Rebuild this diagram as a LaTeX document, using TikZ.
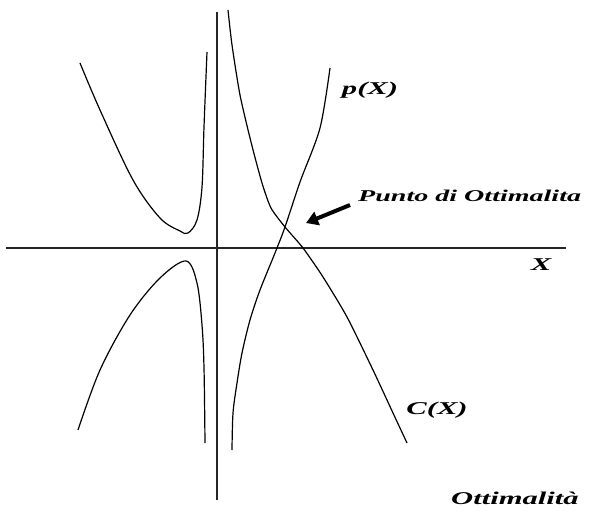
\documentclass[tikz,border=0pt]{standalone}
\usepackage{fontspec}
\usetikzlibrary{arrows.meta}
\newfontfamily\lblfont[FakeStretch=1.7]{Liberation Serif}
\begin{document}
\begin{tikzpicture}[x=1pt,y=-1pt,
  curve/.style={black, line width=1.2pt},
  axis/.style={black!85, line width=1.8pt},
  lbl/.style={inner sep=0pt, font=\lblfont\bfseries\itshape\fontsize{18}{20}\selectfont}]
\useasboundingbox (0,0) rectangle (600,511);
% axes
\coordinate (xl) at (6,248);
\coordinate (xr) at (566,248);
\coordinate (yt) at (217,12);
\coordinate (yb) at (217,500);
\draw[axis] (xl) -- (xr);
\draw[axis] (yt) -- (yb);
% upper-left branch
\draw[curve] plot[smooth, tension=0.55] coordinates {(80,63) (100,110) (133,180) (160,218) (180,231) (188,233) (197,220) (202,187) (204,127) (207,52)};
% lower-left branch
\draw[curve] plot[smooth, tension=0.55] coordinates {(78,430) (100,370) (130,315) (160,278) (186,261) (197,283) (202,325) (204,368) (205,443)};
% C(X): decreasing branch
\draw[curve] plot[smooth, tension=0.4] coordinates {(228,10) (232,45) (240,95) (251,142) (262,183) (271,208) (285,227) (303,248) (323,277) (347,317) (373,370) (393,413) (407,443)};
% p(X): increasing branch
\draw[curve] plot[smooth, tension=0.5] coordinates {(232,450) (233,413) (237,383) (242,353) (250,320) (260,290) (275,253) (285,227) (300,182) (320,128) (330,68)};
% labels
\node[lbl] (px) at (370,90) {p(X)};
\node[lbl, anchor=west, font=\lblfont\bfseries\itshape\fontsize{16.5}{19}\selectfont] (punto) at (358,196) {Punto di Ottimalita};
\node[lbl] (xlab) at (541,265) {X};
\node[lbl] (cx) at (437,410) {C(X)};
\node[lbl] (ott) at (515,498) {Ottimalità};
% arrow
\coordinate (atail) at (350,205);
\coordinate (ahead) at (306,223);
\draw[line width=4pt, -{Triangle[length=12pt,width=14pt]}] (atail) -- (ahead);
\end{tikzpicture}
\end{document}
